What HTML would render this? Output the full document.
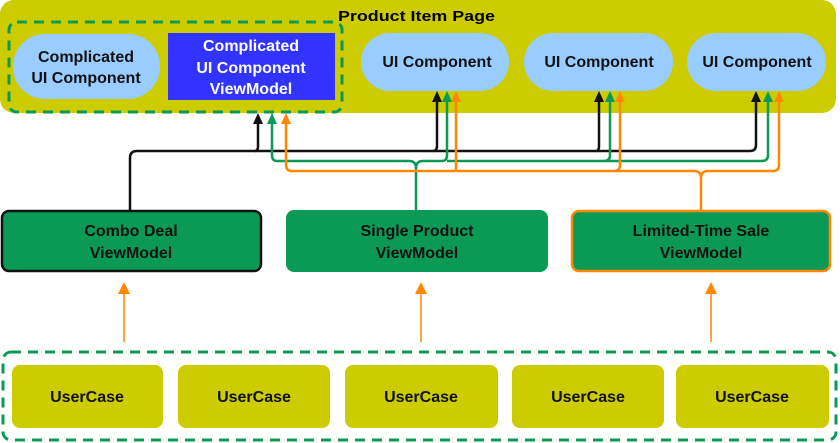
<!DOCTYPE html>
<html><head><meta charset="utf-8"><style>
html,body{margin:0;padding:0;background:#fff;}
svg{display:block;font-family:"Liberation Sans",Arial,sans-serif;font-weight:bold;}
</style></head><body>
<svg width="840" height="443" viewBox="0 0 840 443" xmlns="http://www.w3.org/2000/svg">
<!-- top panel -->
<rect x="0" y="0" width="836" height="113" rx="14" fill="#cccc00"/>
<text x="338" y="21" font-size="14.5" fill="#000" textLength="157" lengthAdjust="spacingAndGlyphs">Product Item Page</text>
<rect x="9" y="22" width="333" height="90" rx="8" fill="none" stroke="#0a9a55" stroke-width="3" stroke-dasharray="10,7"/>
<rect x="13" y="34" width="147" height="65" rx="32" fill="#99ccff"/>
<text x="86" y="62" font-size="16" text-anchor="middle" fill="#111">Complicated</text>
<text x="86" y="83" font-size="16" text-anchor="middle" fill="#111">UI Component</text>
<rect x="168" y="33" width="167" height="67" fill="#3333ff"/>
<text x="251" y="51" font-size="16" text-anchor="middle" fill="#fff">Complicated</text>
<text x="251" y="73" font-size="16" text-anchor="middle" fill="#fff">UI Component</text>
<text x="251" y="94" font-size="16" text-anchor="middle" fill="#fff">ViewModel</text>
<rect x="361" y="33" width="148" height="58" rx="29" fill="#99ccff"/>
<text x="437" y="67" font-size="16" text-anchor="middle" fill="#111">UI Component</text>
<rect x="524" y="33" width="149" height="58" rx="29" fill="#99ccff"/>
<text x="599" y="67" font-size="16" text-anchor="middle" fill="#111">UI Component</text>
<rect x="687" y="33" width="139" height="58" rx="29" fill="#99ccff"/>
<text x="757" y="67" font-size="16" text-anchor="middle" fill="#111">UI Component</text>

<!-- connectors -->
<g fill="none" stroke-width="2.5">
<path d="M130,210 V158 Q130,151 137,151 H255 Q258,151 258,146 V122" stroke="#111"/>
<path d="M255,151 H433 Q437,151 437,146 V100" stroke="#111"/>
<path d="M433,151 H596 Q599,151 599,146 V100" stroke="#111"/>
<path d="M596,151 H750 Q756,151 756,145 V100" stroke="#111"/>
<path d="M416,210 V168 Q416,161 423,161 H442 Q447,161 447,155 V100" stroke="#0a9a55"/>
<path d="M416,168 Q416,161 409,161 H277 Q272,161 272,155 V122" stroke="#0a9a55"/>
<path d="M447,161 H604 Q610,161 610,155 V100" stroke="#0a9a55"/>
<path d="M604,161 H762 Q768,161 768,155 V100" stroke="#0a9a55"/>
<path d="M701,210 V178 Q701,171 694,171 H292 Q286,171 286,165 V122" stroke="#ff8800"/>
<path d="M456,171 V100" stroke="#ff8800"/>
<path d="M614,171 Q620,171 620,165 V100" stroke="#ff8800"/>
<path d="M701,178 Q701,171 708,171 H773 Q779,171 779,165 V100" stroke="#ff8800"/>
</g>
<g>
<path d="M253,124 L258,113 L263,124 Z" fill="#111"/>
<path d="M267,124 L272,113 L277,124 Z" fill="#0a9a55"/>
<path d="M281,124 L286,113 L291,124 Z" fill="#ff8800"/>
<path d="M432,102 L437,91 L442,102 Z" fill="#111"/>
<path d="M442,102 L447,91 L452,102 Z" fill="#0a9a55"/>
<path d="M451,102 L456,91 L461,102 Z" fill="#ff8800"/>
<path d="M594,102 L599,91 L604,102 Z" fill="#111"/>
<path d="M605,102 L610,91 L615,102 Z" fill="#0a9a55"/>
<path d="M615,102 L620,91 L625,102 Z" fill="#ff8800"/>
<path d="M751,102 L756,91 L761,102 Z" fill="#111"/>
<path d="M763,102 L768,91 L773,102 Z" fill="#0a9a55"/>
<path d="M774,102 L779,91 L784,102 Z" fill="#ff8800"/>
</g>

<!-- viewmodels -->
<rect x="2" y="211" width="259" height="60" rx="7" fill="#0a9a55" stroke="#111" stroke-width="2.5"/>
<text x="131" y="236" font-size="16" text-anchor="middle" fill="#111">Combo Deal</text>
<text x="131" y="258" font-size="16" text-anchor="middle" fill="#111">ViewModel</text>
<rect x="286" y="210" width="262" height="62" rx="8" fill="#0a9a55"/>
<text x="417" y="236" font-size="16" text-anchor="middle" fill="#111">Single Product</text>
<text x="417" y="258" font-size="16" text-anchor="middle" fill="#111">ViewModel</text>
<rect x="572" y="211" width="258" height="60" rx="7" fill="#0a9a55" stroke="#ff8800" stroke-width="2.5"/>
<text x="701" y="236" font-size="16" text-anchor="middle" fill="#111">Limited-Time Sale</text>
<text x="701" y="258" font-size="16" text-anchor="middle" fill="#111">ViewModel</text>

<!-- up arrows -->
<g stroke="#ff8800" stroke-width="1.5">
<line x1="124" y1="342" x2="124" y2="292"/>
<line x1="421" y1="342" x2="421" y2="292"/>
<line x1="711" y1="342" x2="711" y2="292"/>
</g>
<g fill="#ff8800">
<path d="M118,294 L124,282 L130,294 Z"/>
<path d="M415,294 L421,282 L427,294 Z"/>
<path d="M705,294 L711,282 L717,294 Z"/>
</g>

<!-- usecases -->
<rect x="3" y="352" width="833" height="88" rx="8" fill="none" stroke="#0a9a55" stroke-width="3" stroke-dasharray="10,7"/>
<rect x="12" y="365" width="151" height="63" rx="8" fill="#cccc00"/>
<text x="87" y="402" font-size="16" text-anchor="middle" fill="#111">UserCase</text>
<rect x="178" y="365" width="152" height="63" rx="8" fill="#cccc00"/>
<text x="254" y="402" font-size="16" text-anchor="middle" fill="#111">UserCase</text>
<rect x="345" y="365" width="153" height="63" rx="8" fill="#cccc00"/>
<text x="421" y="402" font-size="16" text-anchor="middle" fill="#111">UserCase</text>
<rect x="512" y="365" width="152" height="63" rx="8" fill="#cccc00"/>
<text x="588" y="402" font-size="16" text-anchor="middle" fill="#111">UserCase</text>
<rect x="676" y="365" width="153" height="63" rx="8" fill="#cccc00"/>
<text x="752" y="402" font-size="16" text-anchor="middle" fill="#111">UserCase</text>
</svg>
</body></html>
